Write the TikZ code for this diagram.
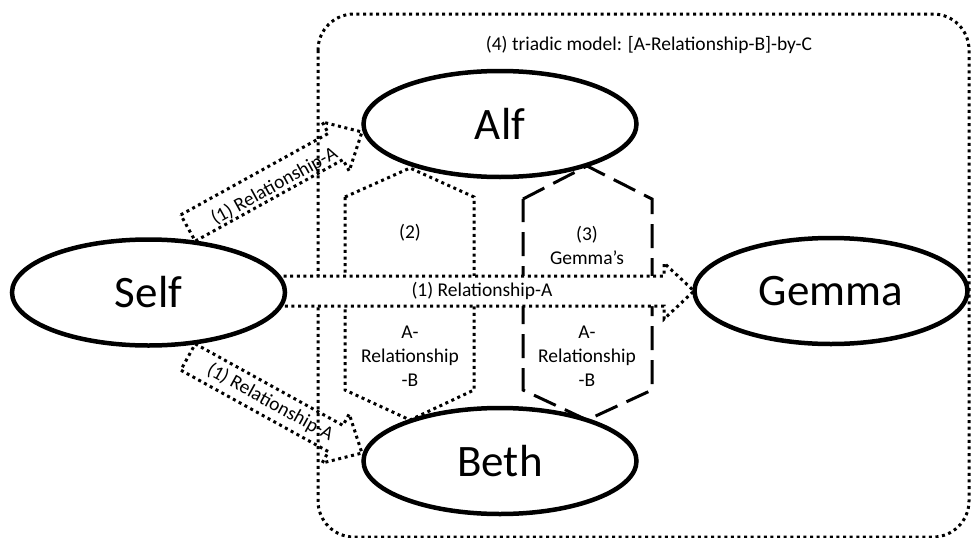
\documentclass[tikz,border=0pt]{standalone}
\usepackage{fontspec}
\setmainfont{Carlito}
\usetikzlibrary{calc,shapes.geometric}
\tikzset{
  ent/.style={draw, ellipse, line width=4.5pt, fill=white, minimum width=273pt, minimum height=106pt, inner sep=0pt, font=\fontsize{45}{54}\selectfont},
  dotline/.style={line width=3pt, dash pattern=on 3pt off 3.6pt},
  dashline/.style={line width=3pt, dash pattern=on 24pt off 10pt},
  lbl/.style={font=\fontsize{19.5}{24}\selectfont, inner sep=0pt},
  hextext/.style={lbl, align=center},
  fatarr/.style={dotline, line join=miter},
}
% fat arrow along the local x axis: length #1, body half-width 15, head half-width 28, head length 30
\newcommand{\myfatbody}[2]{%
  \draw[fatarr, #2] (0,-15) -- ({#1-30},-15) -- ({#1-30},-28) -- (#1,0) -- ({#1-30},28) -- ({#1-30},15) -- (0,15) -- cycle;}
\begin{document}
\begin{tikzpicture}[x=1pt, y=-1pt]
\useasboundingbox (0,0) rectangle (972,538);
% outer triadic frame
\draw[dotline, rounded corners=36pt] (318,14) rectangle (969,537);
\node[lbl] (title) at (649,45) {(4) triadic model: [A-Relationship-B]-by-C};
% hexagons
\draw[dotline] (345,197) -- (410,168) -- (474,197) -- (474,390) -- (410,420) -- (345,390) -- cycle;
\draw[dashline] (523,199) -- (587,166) -- (652,199) -- (652,390) -- (587,420) -- (523,390) -- cycle;
\node[hextext] (h2top) at (410,233) {(2)};
\node[hextext] (h2bot) at (410,356) {A-\\Relationship\\-B};
\node[hextext] (h3top) at (587,245) {(3)\\Gemma’s};
\node[hextext] (h3bot) at (587,356) {A-\\Relationship\\-B};
% arrow end points (tails near Self, tips at Alf / Beth / Gemma)
\coordinate (t1) at (188,228);
\coordinate (e1) at (362,132);
\coordinate (t2) at (188,357);
\coordinate (e2) at (362,453);
\coordinate (t3) at (277,291);
\coordinate (e3) at (694,291);
% Self -> Alf
\begin{scope}[shift={(t1)}, rotate=28.9]
  \myfatbody{198.7}{}
  \node[lbl, rotate=28.9] (l1) at (96,5) {(1) Relationship-A};
\end{scope}
% Self -> Beth
\begin{scope}[shift={(t2)}, rotate=-28.9]
  \myfatbody{198.7}{}
  \node[lbl, rotate=-28.9] (l2) at (94,0) {(1) Relationship-A};
\end{scope}
% Self -> Gemma
\begin{scope}[shift={(t3)}]
  \myfatbody{417}{fill=white}
  \node[lbl] (l3) at (205,0) {(1) Relationship-A};
\end{scope}
% entities
\node[ent] (self) at (148.5,292.5) {Self};
\node[ent] (alf) at (500,124) {Alf};
\node[ent] (beth) at (500,461) {Beth};
\node[ent] (gemma) at (831,291) {Gemma};
\end{tikzpicture}
\end{document}
